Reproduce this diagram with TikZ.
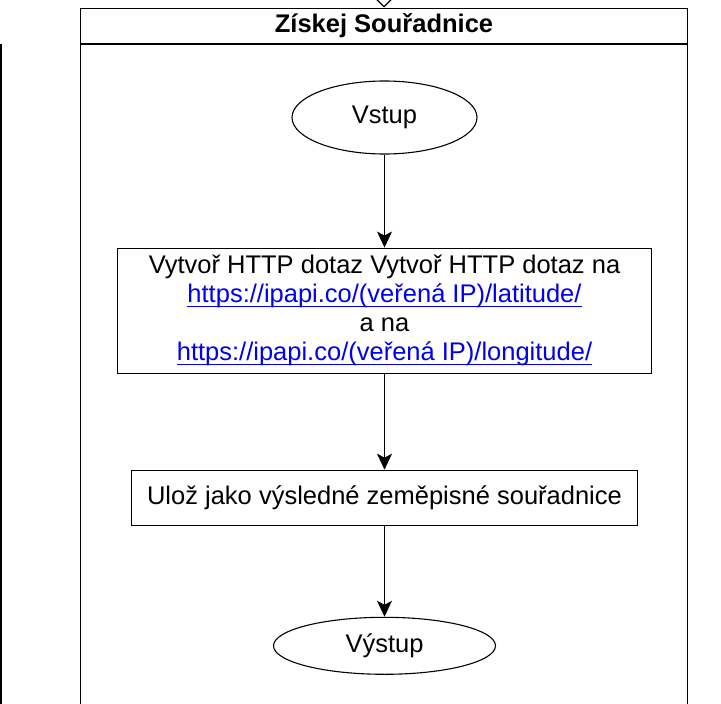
\documentclass[tikz,border=0pt]{standalone}
\usepackage{fontspec}
\setsansfont{Liberation Sans}
\usetikzlibrary{arrows.meta,positioning,shapes.geometric}
\definecolor{linkblue}{RGB}{0,0,238}
\newcommand{\weblink}[1]{\textcolor{linkblue}{\setbox0=\hbox{#1}\rlap{\rule[-4.5pt]{\wd0}{1.2pt}}\box0}}

\begin{document}
\begin{tikzpicture}[
  x=1pt, y=1pt,
  font=\sffamily\fontsize{25.5}{29}\selectfont,
  lane/.style={draw, line width=1.3pt},
  term/.style={draw, ellipse, line width=1.1pt, inner sep=0pt},
  box/.style={draw, rectangle, line width=1.1pt, align=center, inner sep=0pt},
  arrow/.style={-{Stealth[length=16pt, width=15pt, inset=4pt]}, line width=1pt},
  entry/.style={-{Triangle[open, length=10pt, width=20pt]}, line width=1.2pt}
]
\useasboundingbox (0,0) rectangle (721,-704);
\clip (0,0) rectangle (721,-704);

% neighbouring lane, cut off at the left edge
\node[lane, minimum width=200pt, minimum height=720pt, anchor=north east] (prevlane) at (1.5,-44) {};
\draw[lane] ([yshift=-38pt]prevlane.north west) -- ([yshift=-38pt]prevlane.north east);

% lane of this procedure
\node[lane, minimum width=607pt, minimum height=760pt, anchor=north] (lane) at (384,-7.5) {};
\draw[lane] ([yshift=-36.5pt]lane.north west) -- ([yshift=-36.5pt]lane.north east);
\node[font=\sffamily\bfseries\fontsize{25.5}{29}\selectfont] (title) at (384,-26) {Získej Souřadnice};
\coordinate (lanein) at (384,30);
\draw[entry] (lanein) -- (lane.north);

\node[term, minimum width=185pt, minimum height=73pt] (vstup) at (384.5,-117.5) {Vstup};
\node[box, below=93pt of vstup, minimum width=534pt, minimum height=125pt] (dotaz)
  {Vytvoř HTTP dotaz Vytvoř HTTP dotaz na\\
   \weblink{https://ipapi.co/(veřená IP)/latitude/}\\
   a na\\
   \weblink{https://ipapi.co/(veřená IP)/longitude/}};
\node[box, below=96pt of dotaz, minimum width=506pt, minimum height=55pt] (uloz)
  {Ulož jako výsledné zeměpisné souřadnice};
\node[term, below=91pt of uloz, minimum width=222pt, minimum height=57pt] (vystup) {Výstup};

\draw[arrow] (vstup) -- (dotaz);
\draw[arrow] (dotaz) -- (uloz);
\draw[arrow] (uloz) -- (vystup);

\end{tikzpicture}
\end{document}
